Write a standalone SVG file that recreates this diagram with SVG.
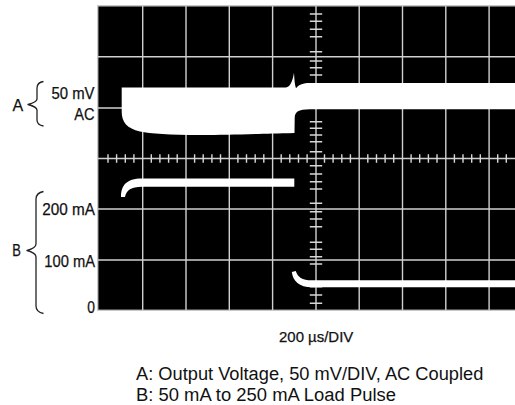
<svg xmlns="http://www.w3.org/2000/svg" width="515" height="405" viewBox="0 0 515 405">
<style>
.grid{stroke:#d0d0d0;stroke-width:1.4;fill:none}
.tick{stroke:#d8d8d8;stroke-width:1.4;fill:none}
.wave{fill:#ffffff;stroke:none}
.brace{fill:none;stroke:#222;stroke-width:1.3;stroke-linejoin:round}
.lbl{font-family:"Liberation Sans",Arial,sans-serif;font-size:16px;fill:#111;stroke:#111;stroke-width:0.25}
.cap{font-family:"Liberation Sans",Arial,sans-serif;font-size:18px;fill:#111}
</style>
<rect width="515" height="405" fill="#ffffff"/>
<g id="screen">
<rect x="97.7" y="5.8" width="420" height="304.5" fill="#000" stroke="#c8c8c8" stroke-width="1.4"/>
<path class="grid" d="M142.7 6V310M186 6V310M229.3 6V310M272.6 6V310M316 6V310M359.2 6V310M402.5 6V310M445.8 6V310M489.1 6V310"/>
<path class="grid" d="M98 56.7H515M98 108H515M98 158.5H515M98 209H515M98 260H515"/>
<path class="tick" d="M108 154.3V162.7M116.6 154.3V162.7M125.3 154.3V162.7M133.9 154.3V162.7M151.3 154.3V162.7M159.9 154.3V162.7M168.6 154.3V162.7M177.2 154.3V162.7M194.6 154.3V162.7M203.2 154.3V162.7M211.9 154.3V162.7M220.5 154.3V162.7M237.9 154.3V162.7M246.5 154.3V162.7M255.2 154.3V162.7M263.8 154.3V162.7M281.2 154.3V162.7M289.8 154.3V162.7M298.5 154.3V162.7M307.1 154.3V162.7M324.5 154.3V162.7M333.1 154.3V162.7M341.8 154.3V162.7M350.4 154.3V162.7M367.8 154.3V162.7M376.5 154.3V162.7M385.1 154.3V162.7M393.7 154.3V162.7M411.1 154.3V162.7M419.7 154.3V162.7M428.4 154.3V162.7M437 154.3V162.7M454.4 154.3V162.7M463 154.3V162.7M471.7 154.3V162.7M480.3 154.3V162.7M497.7 154.3V162.7M506.3 154.3V162.7"/>
<path class="tick" d="M309.8 14H322.2M309.8 21.3H322.2M309.8 29.3H322.2M309.8 36.7H322.2M309.8 51.7H322.2M309.8 61H322.2M309.8 67.7H322.2M309.8 75H322.2M309.8 121.7H322.2M309.8 128.3H322.2M309.8 135H322.2M309.8 141.7H322.2M309.8 151.7H322.2M309.8 165.7H322.2M309.8 174H322.2M309.8 181.7H322.2M309.8 189H322.2M309.8 203.3H322.2M309.8 211.7H322.2M309.8 219H322.2M309.8 226.7H322.2M309.8 242.3H322.2M309.8 249.3H322.2M309.8 256.7H322.2M309.8 264H322.2M309.8 286.7H322.2M309.8 295H322.2M309.8 303.3H322.2"/>
</g>
<g id="trace-a">
<path class="wave" d="M121.7 87.5L286 87.5C290 87 292.5 82 294 72.8C294.4 80 294.8 85 296 88.3C299 84.5 303 83 310 83L515 83L515 109.3L310 109.3C298 109.3 295 112 294.7 118L294.5 133C250 134 230 135 200 135C170 134.8 150 133.8 140 131.5C127 128.5 121.7 122 121.7 112Z"/>
</g>
<g id="trace-b">
<path class="wave" d="M121 197C121 186 126 178.6 142 178.6L294.3 178.6L294.3 186.7L142 186.7C131 186.7 126.5 190 125 197Z"/>
<path class="wave" d="M291.8 272C293 281 299 287.3 312 287.3L515 287.3L515 280.3L312 280.3C302 280.3 297.5 277 295.8 271Z"/>
</g>
<g id="label-a">
<path class="brace" d="M43.5 81.5Q37 82.5 37 88L37 99Q37 102 28 104.5Q37 107 37 110L37 120Q37 125 43.5 126"/>
<text class="lbl" x="12.5" y="111" style="font-size:17px" textLength="10.7" lengthAdjust="spacingAndGlyphs">A</text>
<text class="lbl" x="94.5" y="99" text-anchor="end" textLength="43" lengthAdjust="spacingAndGlyphs">50 mV</text>
<text class="lbl" x="94.5" y="119.5" text-anchor="end" textLength="20.3" lengthAdjust="spacingAndGlyphs">AC</text>
</g>
<g id="label-b">
<path class="brace" d="M43.5 191.5Q36 193 36 199L36 244Q36 248 27 250.5Q36 253 36 257L36 306Q36 312 43.5 313.5"/>
<text class="lbl" x="12.3" y="256" textLength="8.6" lengthAdjust="spacingAndGlyphs">B</text>
<text class="lbl" x="95" y="215" text-anchor="end" textLength="52.7" lengthAdjust="spacingAndGlyphs">200 mA</text>
<text class="lbl" x="95" y="267.3" text-anchor="end" textLength="50.7" lengthAdjust="spacingAndGlyphs">100 mA</text>
<text class="lbl" x="95" y="313" text-anchor="end" textLength="7.7" lengthAdjust="spacingAndGlyphs">0</text>
</g>
<g id="axis-label">
<text class="lbl" x="279" y="341.7" style="font-size:15px" textLength="74.3" lengthAdjust="spacingAndGlyphs">200 µs/DIV</text>
</g>
<g id="caption">
<text class="cap" x="136" y="380" textLength="347.3" lengthAdjust="spacingAndGlyphs">A: Output Voltage, 50 mV/DIV, AC Coupled</text>
<text class="cap" x="136" y="401" textLength="260" lengthAdjust="spacingAndGlyphs">B: 50 mA to 250 mA Load Pulse</text>
</g>
</svg>
